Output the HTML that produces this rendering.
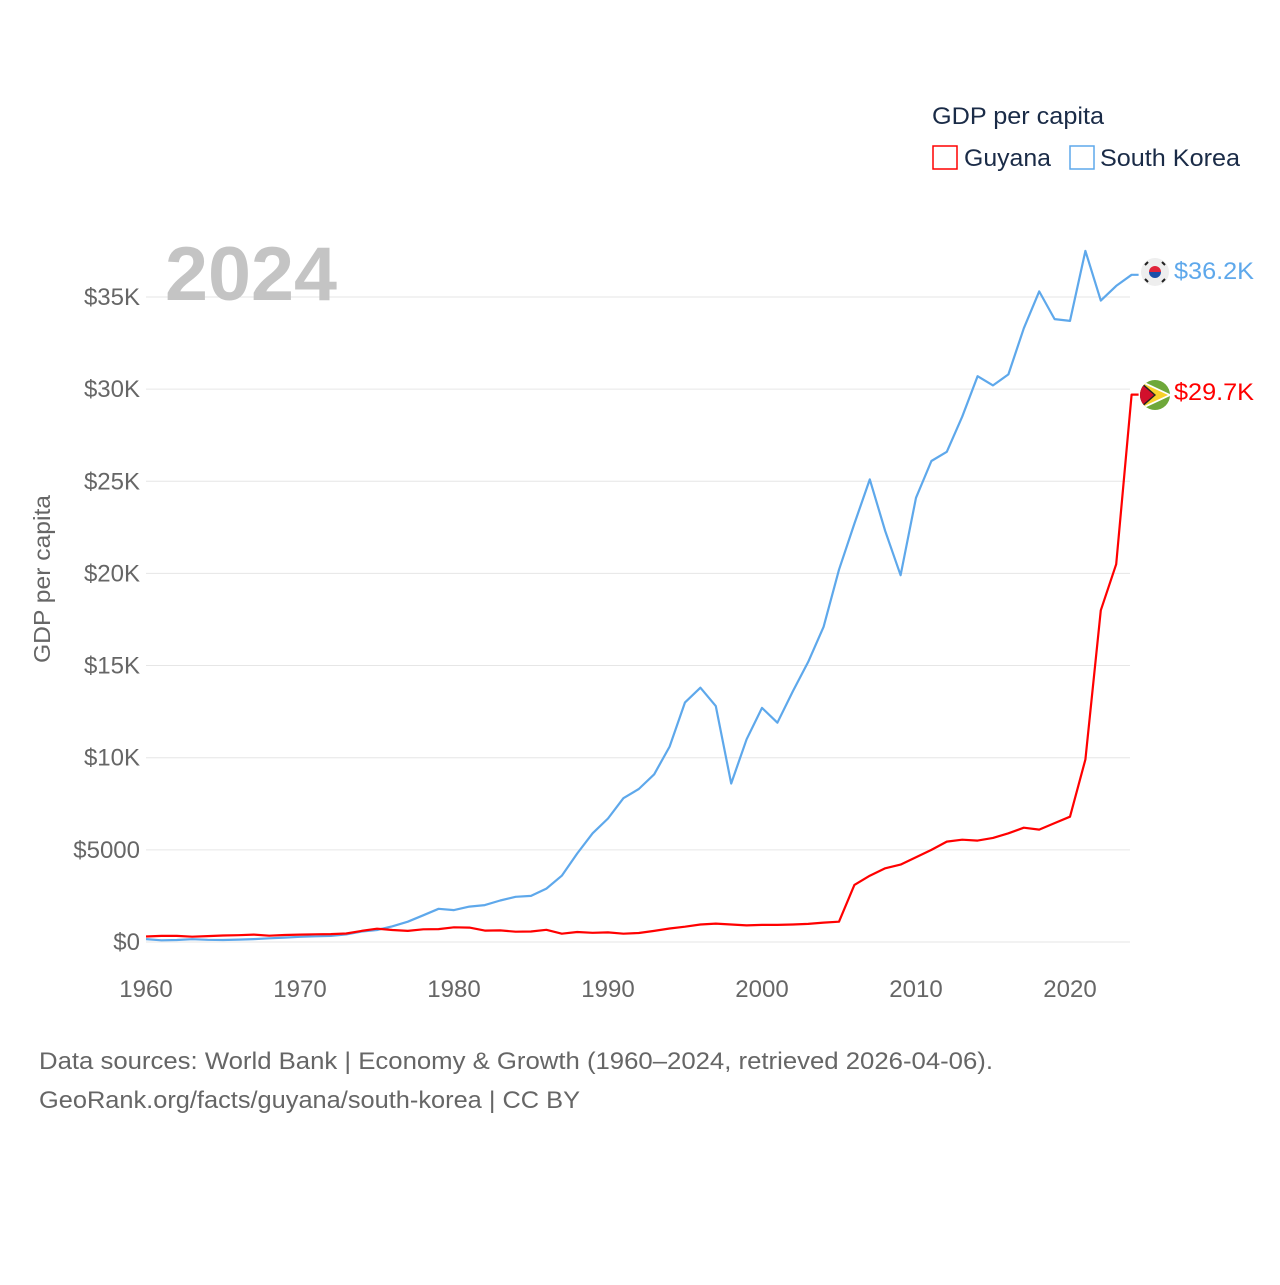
<!DOCTYPE html>
<html><head><meta charset="utf-8"><style>
body{margin:0;background:#fff;font-family:"Liberation Sans",sans-serif}
svg text{font-family:"Liberation Sans",sans-serif}
</style></head><body>
<svg id="chart" width="1280" height="1280" viewBox="0 0 1280 1280">
<g id="grid"></g>
<g id="yticks"></g>
<g id="xticks"></g>
<text x="50" y="579" transform="rotate(-90 50 579)" text-anchor="middle" font-size="23" fill="#666" textLength="168" lengthAdjust="spacingAndGlyphs">GDP per capita</text>
<text x="165" y="300" font-size="76" font-weight="bold" fill="#c4c4c4" textLength="172" lengthAdjust="spacingAndGlyphs">2024</text>
<g id="lines"></g>
<g>
<text x="932" y="124" font-size="24" fill="#1a2b47" textLength="172" lengthAdjust="spacingAndGlyphs">GDP per capita</text>
<g><rect x="933" y="146" width="24" height="23" fill="none" stroke="#ff0000" stroke-width="1.5"/><text x="964" y="166" font-size="24" fill="#1a2b47" textLength="87" lengthAdjust="spacingAndGlyphs">Guyana</text></g>
<g><rect x="1070" y="146" width="24" height="23" fill="none" stroke="#5ea8eb" stroke-width="1.5"/><text x="1100" y="166" font-size="24" fill="#1a2b47" textLength="140" lengthAdjust="spacingAndGlyphs">South Korea</text></g>
</g>
<g><circle cx="1155" cy="272" r="14" fill="#eee"/><path d="M1149 272a6 6 0 0 1 12 0z" fill="#e0243a"/><path d="M1149 272a6 6 0 0 0 12 0z" fill="#1b4fa8"/><g stroke="#222" stroke-width="2"><line x1="1145" y1="265" x2="1148" y2="262"/><line x1="1162" y1="262" x2="1165" y2="265"/><line x1="1145" y1="279" x2="1148" y2="282"/><line x1="1162" y1="282" x2="1165" y2="279"/></g></g>
<text x="1174" y="279" font-size="24" fill="#5ea8eb" textLength="80" lengthAdjust="spacingAndGlyphs">$36.2K</text>
<g><clipPath id="gc"><circle cx="1155" cy="395" r="15"/></clipPath><g clip-path="url(#gc)"><rect x="1140" y="380" width="30" height="30" fill="#6ea83a"/><path d="M1140 380L1172 395L1140 410z" fill="#fff"/><path d="M1140 382L1168 395L1140 408z" fill="#f7d12a"/><path d="M1140 381L1156 395L1140 409z" fill="#222"/><path d="M1140 383L1154 395L1140 407z" fill="#d2102c"/></g></g>
<text x="1174" y="400" font-size="24" fill="#ff0000" textLength="80" lengthAdjust="spacingAndGlyphs">$29.7K</text>
<text x="39" y="1069" font-size="24" fill="#666" textLength="954" lengthAdjust="spacingAndGlyphs">Data sources: World Bank | Economy &amp; Growth (1960–2024, retrieved 2026-04-06).</text>
<text x="39" y="1108" font-size="24" fill="#666" textLength="541" lengthAdjust="spacingAndGlyphs">GeoRank.org/facts/guyana/south-korea | CC BY</text>
</svg>
<script>
const years=[];for(let y=1960;y<=2024;y++)years.push(y);
const korea=[0.16,0.09,0.11,0.15,0.12,0.11,0.13,0.16,0.2,0.24,0.28,0.31,0.33,0.41,0.57,0.65,0.85,1.1,1.45,1.8,1.73,1.92,2.0,2.25,2.45,2.5,2.9,3.6,4.8,5.9,6.7,7.8,8.3,9.1,10.6,13.0,13.8,12.8,8.6,11.0,12.7,11.9,13.6,15.2,17.1,20.2,22.7,25.1,22.3,19.9,24.1,26.1,26.6,28.5,30.7,30.2,30.8,33.3,35.3,33.8,33.7,37.5,34.8,35.6,36.2];
const guyana=[0.3,0.33,0.33,0.29,0.32,0.35,0.37,0.4,0.34,0.38,0.4,0.42,0.43,0.46,0.6,0.72,0.65,0.6,0.69,0.7,0.8,0.78,0.62,0.63,0.56,0.57,0.66,0.45,0.54,0.5,0.52,0.45,0.49,0.6,0.73,0.83,0.95,1.0,0.95,0.9,0.93,0.93,0.95,0.98,1.05,1.1,3.1,3.6,4.0,4.2,4.6,5.0,5.45,5.55,5.5,5.65,5.9,6.2,6.1,6.45,6.8,9.9,18.0,20.5,29.7];
const yTicks=[0,5,10,15,20,25,30,35];
const yTickLabels=["$0","$5000","$10K","$15K","$20K","$25K","$30K","$35K"];
const xTicks=[1960,1970,1980,1990,2000,2010,2020];
const NS="http://www.w3.org/2000/svg";
const X=y=>146+(y-1960)*15.4;
const Y=v=>942-v*18.43;
function mk(tag,attrs,parent,txt){const e=document.createElementNS(NS,tag);for(const k in attrs)e.setAttribute(k,attrs[k]);if(txt!==undefined)e.textContent=txt;parent.appendChild(e);return e;}
const grid=document.getElementById('grid'),yt=document.getElementById('yticks'),xt=document.getElementById('xticks'),lines=document.getElementById('lines');
yTicks.forEach((v,i)=>{
 const l=mk('line',{x1:146,x2:1130,y1:Y(v),y2:Y(v),stroke:'#e6e6e6','stroke-width':1},grid);
 
 
 const t=mk('text',{x:140,y:Y(v)+8,'text-anchor':'end','font-size':24,fill:'#666'},yt,yTickLabels[i]);
 
 
});
xTicks.forEach(v=>{
 const t=mk('text',{x:X(v),y:997,'text-anchor':'middle','font-size':24,fill:'#666'},xt,String(v));
 
 
});
function series(vals,color,name){
 let d=vals.map((v,i)=>(i?'L':'M')+X(years[i]).toFixed(1)+' '+Y(v).toFixed(1)).join(' ');
 d+=' L'+(X(years[years.length-1])+7).toFixed(1)+' '+Y(vals[vals.length-1]).toFixed(1);
 const p=mk('path',{d:d,fill:'none',stroke:color,'stroke-width':2.2,'stroke-linejoin':'round'},lines);
 
 
}
series(korea,'#5ea8eb','korea-line');
series(guyana,'#ff0000','guyana-line');
</script>
</body></html>
